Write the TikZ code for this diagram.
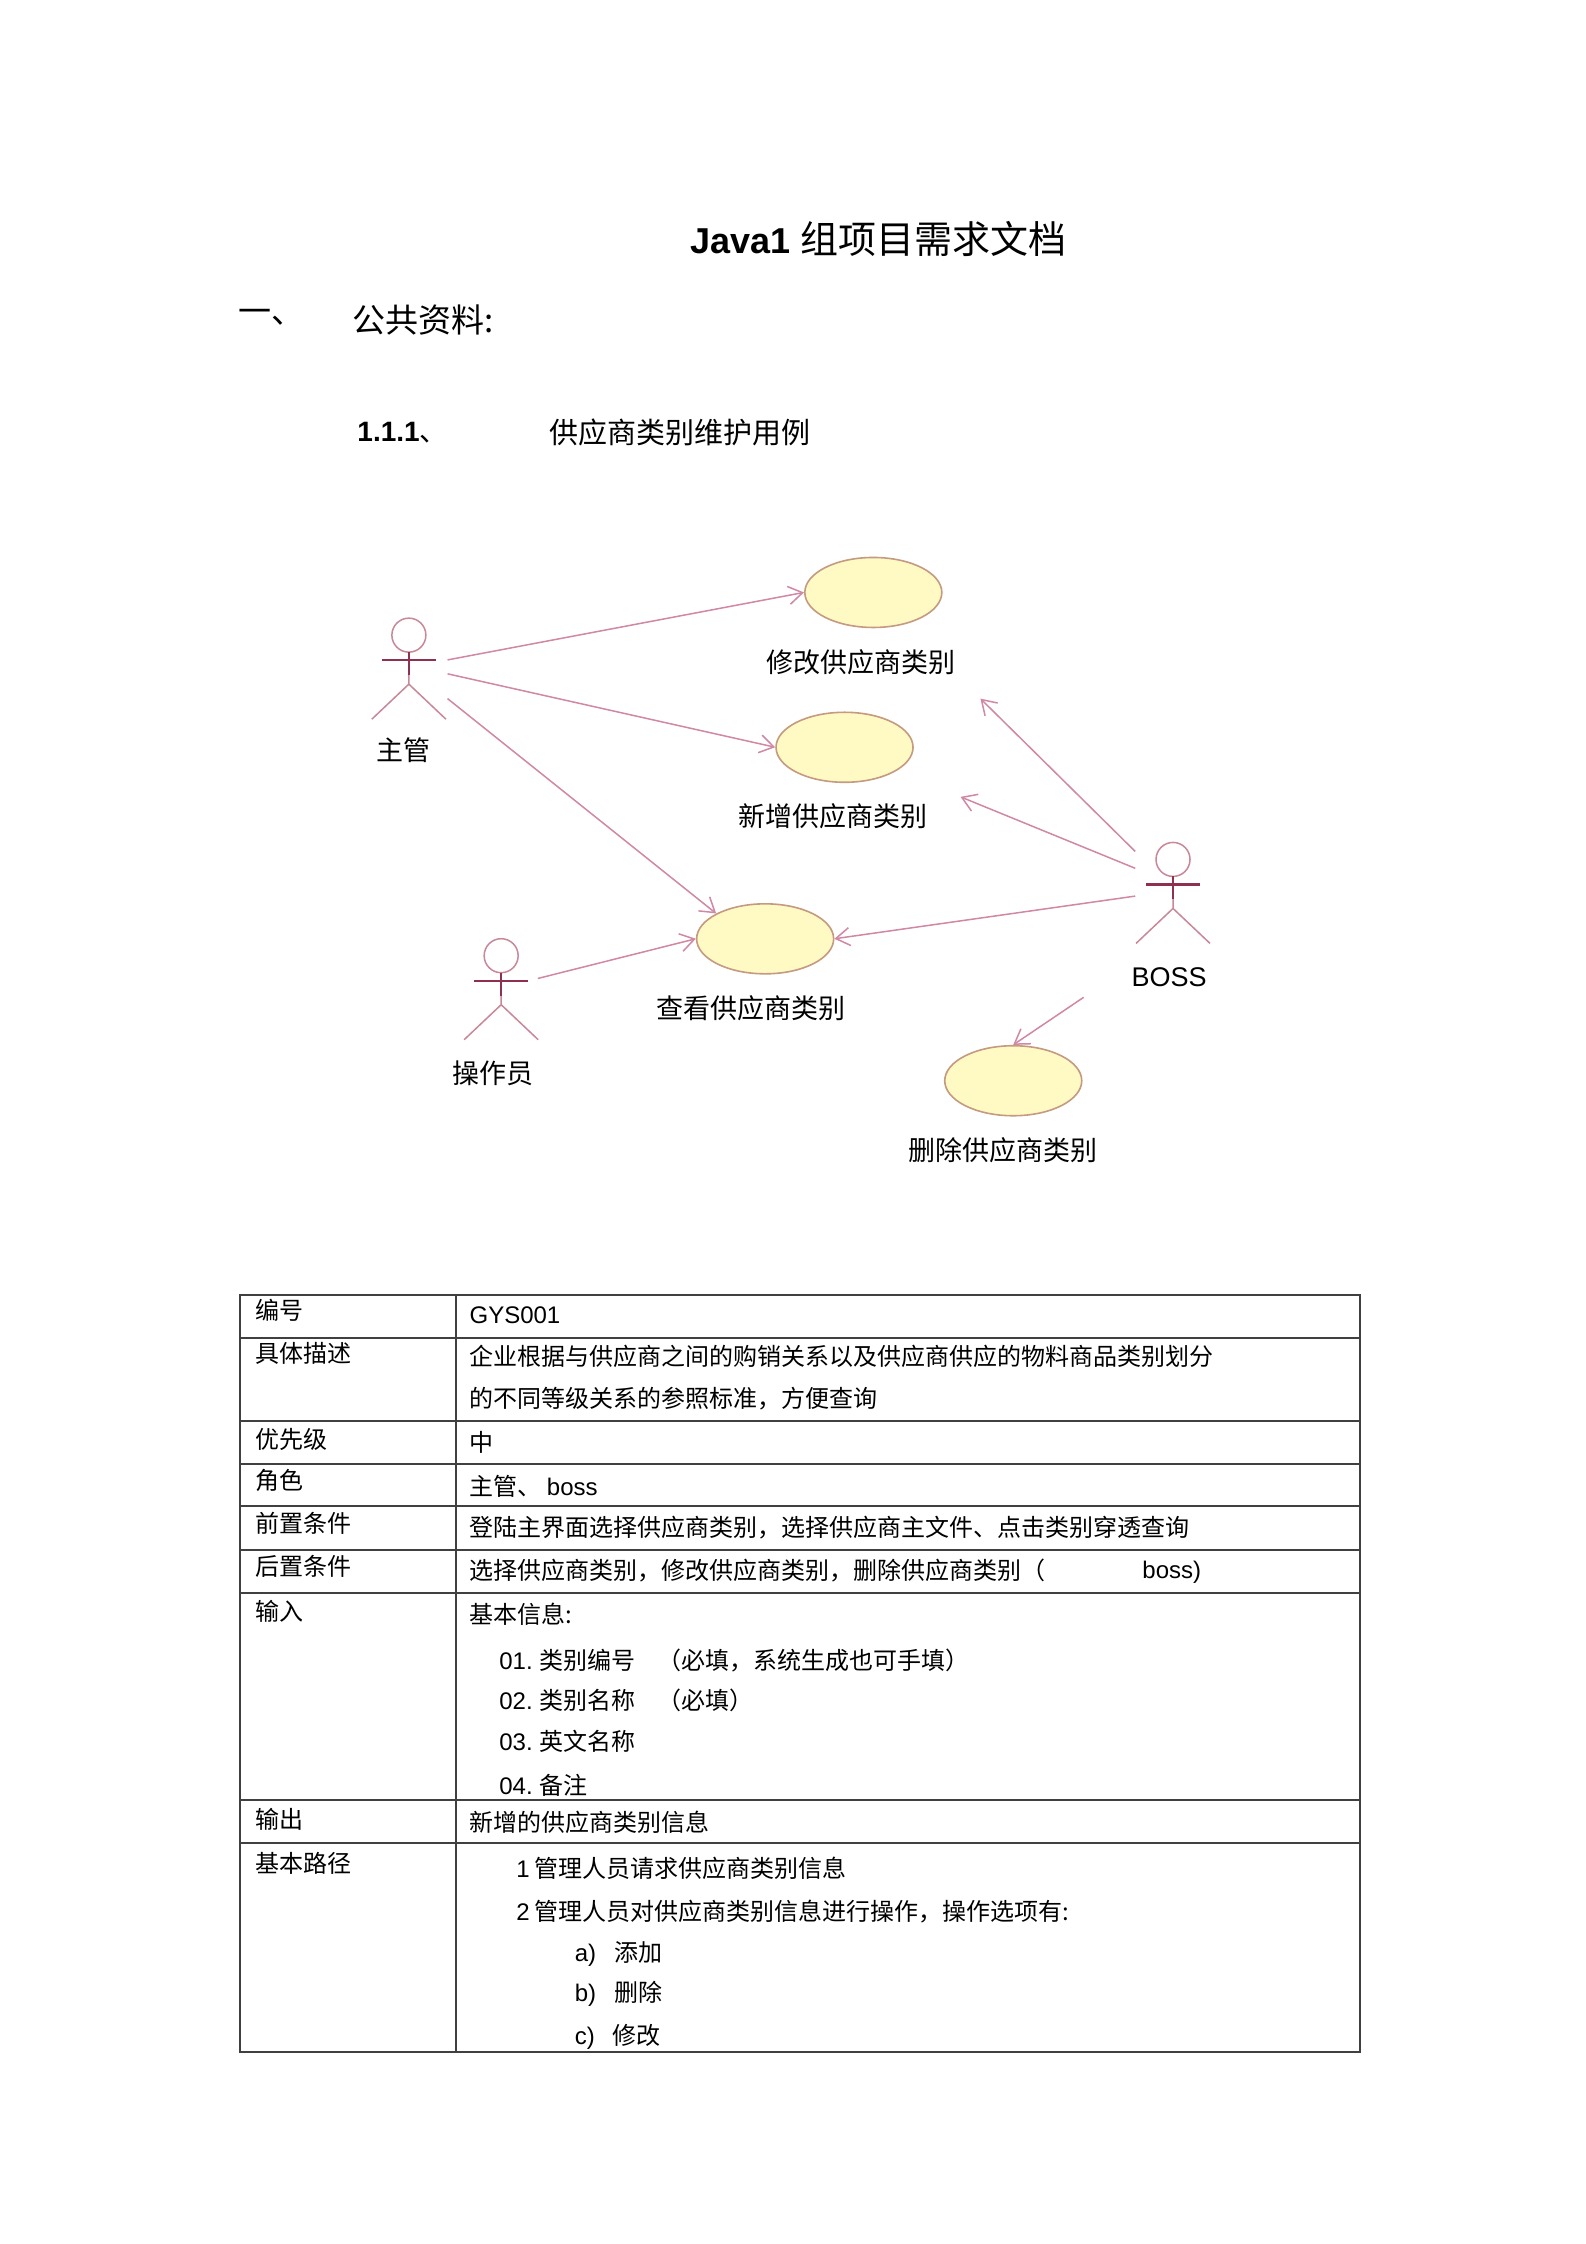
\documentclass[tikz,border=0pt]{standalone}
\usepackage{fontspec}
\setmainfont{Noto Sans CJK SC}
\newfontfamily\lat{Liberation Sans}
\usetikzlibrary{arrows.meta,shapes.geometric}
\definecolor{actc}{HTML}{C88898}
\definecolor{armc}{HTML}{8E3050}
\definecolor{ucfill}{HTML}{FFF9C4}
\definecolor{ucline}{HTML}{C49A80}
\definecolor{arrc}{HTML}{D088A4}
\definecolor{tabc}{HTML}{404040}
\tikzset{
  uc/.style={ellipse,draw=ucline,fill=ucfill,line width=1.6pt,minimum width=137pt,minimum height=70pt,inner sep=0pt},
  lbl/.style={font=\fontsize{27}{30}\selectfont,inner sep=0pt},
  tx/.style={font=\fontsize{24}{28}\selectfont,inner sep=0pt,anchor=west},
  assoc/.style={draw=arrc,line width=1.5pt,-{Straight Barb[length=14pt,width=18pt,line width=1.5pt]}},
  actor/.pic={
    \draw[actc,line width=1.5pt] (0,0) circle (17);
    \draw[actc,line width=1.5pt] (0,17) -- (0,49) -- (-37,84) (0,49) -- (37,84);
    \draw[armc,line width=2.2pt] (-27,25) -- (27,25);
    \draw[armc,line width=1.5pt] (0,17) -- (0,40);
  }
}
\begin{document}
\begin{tikzpicture}[x=1pt,y=-1pt]
\fill[white] (0,0) rectangle (1586,2244);
\useasboundingbox (0,0) rectangle (1586,2244);
\begin{scope}[scale=0.9924]
% headings
\node[inner sep=0pt] (title) at (885,241) {{\lat\bfseries\fontsize{36}{40}\selectfont Java1}\hspace{10pt}{\fontsize{38}{40}\selectfont 组项目需求文档}};
\node[inner sep=0pt,anchor=west] (h1a) at (240,320) {\fontsize{33}{36}\selectfont 一、};
\node[inner sep=0pt,anchor=west] (h1b) at (355,322) {\fontsize{33}{36}\selectfont 公共资料:};
\node[inner sep=0pt,anchor=west] (h2a) at (360,436) {\lat\bfseries\fontsize{28}{30}\selectfont 1.1.1{\normalfont\fontsize{28}{30}\selectfont 、}};
\node[inner sep=0pt,anchor=west] (h2b) at (553,436) {\fontsize{29}{32}\selectfont 供应商类别维护用例};
% actors
\pic at (412,640) {actor};
\pic at (505,963) {actor};
\pic at (1182,866) {actor};
\node[lbl] (lz) at (407,756) {主管};
\node[lbl] (lc) at (497,1081) {操作员};
\node[lbl,font=\lat\fontsize{27}{30}\selectfont] (lb) at (1178,985) {BOSS};
\coordinate (z1) at (451,665);
\coordinate (z2) at (451,679);
\coordinate (z3) at (451,704);
\coordinate (c1) at (542,986);
\coordinate (b1) at (1144,858);
\coordinate (b2) at (1144,875);
\coordinate (b3) at (1144,903);
\coordinate (b4) at (1092,1005);
\coordinate (e1) at (988,704);
\coordinate (e2) at (968,803);
% use cases
\node[uc] (u1) at (880,597) {};
\node[uc] (u2) at (851,753) {};
\node[uc] (u3) at (771,946) {};
\node[uc] (u4) at (1021,1089) {};
\node[lbl] (l1) at (868,667) {修改供应商类别};
\node[lbl] (l2) at (839,822) {新增供应商类别};
\node[lbl] (l3) at (757,1016) {查看供应商类别};
\node[lbl] (l4) at (1011,1159) {删除供应商类别};
\draw[assoc] (z1) -- (u1.west);
\draw[assoc] (z2) -- (u2.west);
\draw[assoc] (z3) -- (u3.north west);
\draw[assoc] (c1) -- (u3.west);
\draw[assoc] (b1) -- (e1);
\draw[assoc] (b2) -- (e2);
\draw[assoc] (b3) -- (u3.east);
\draw[assoc] (b4) -- (u4.north);
% table
\draw[tabc,line width=2pt] (242,1305) rectangle (1370,2068);
\foreach \y in {1348,1432,1475,1518,1562,1605,1814,1857} \draw[tabc,line width=2pt] (242,\y) -- (1370,\y);
\draw[tabc,line width=2pt] (459,1305) -- (459,2068);
\node[tx] (k1) at (257,1320) {编号};
\node[tx] (k2) at (257,1364) {具体描述};
\node[tx] (k3) at (257,1450) {优先级};
\node[tx] (k4) at (257,1492) {角色};
\node[tx] (k5) at (257,1535) {前置条件};
\node[tx] (k6) at (257,1578) {后置条件};
\node[tx] (k7) at (257,1624) {输入};
\node[tx] (k8) at (257,1833) {输出};
\node[tx] (k9) at (257,1878) {基本路径};
\node[tx] (v1) at (473,1325) {\lat GYS001};
\node[tx] (v2a) at (473,1367) {企业根据与供应商之间的购销关系以及供应商供应的物料商品类别划分};
\node[tx] (v2b) at (473,1409) {的不同等级关系的参照标准，方便查询};
\node[tx] (v3) at (473,1453) {中};
\node[tx] (v4) at (473,1498) {主管、 {\lat boss}};
\node[tx] (v5) at (473,1539) {登陆主界面选择供应商类别，选择供应商主文件、点击类别穿透查询};
\node[tx] (v6) at (473,1583) {选择供应商类别，修改供应商类别，删除供应商类别（};
\node[tx] (v6b) at (1151,1584) {\lat boss)};
\node[tx] (v7) at (473,1627) {基本信息:};
\node[tx] (i1) at (503,1673) {{\lat 01.} 类别编号\hspace{22pt}（必填，系统生成也可手填）};
\node[tx] (i2) at (503,1713) {{\lat 02.} 类别名称\hspace{22pt}（必填）};
\node[tx] (i3) at (503,1755) {{\lat 03.} 英文名称};
\node[tx] (i4) at (503,1799) {{\lat 04.} 备注};
\node[tx] (v8) at (473,1836) {新增的供应商类别信息};
\node[tx] (p1) at (520,1883) {{\lat 1} 管理人员请求供应商类别信息};
\node[tx] (p2) at (520,1926) {{\lat 2} 管理人员对供应商类别信息进行操作，操作选项有:};
\node[tx] (pa) at (579,1969) {{\lat a)}\hspace{18pt}添加};
\node[tx] (pb) at (579,2009) {{\lat b)}\hspace{18pt}删除};
\node[tx] (pc) at (579,2052) {{\lat c)}\hspace{18pt}修改};
\end{scope}
\end{tikzpicture}
\end{document}
